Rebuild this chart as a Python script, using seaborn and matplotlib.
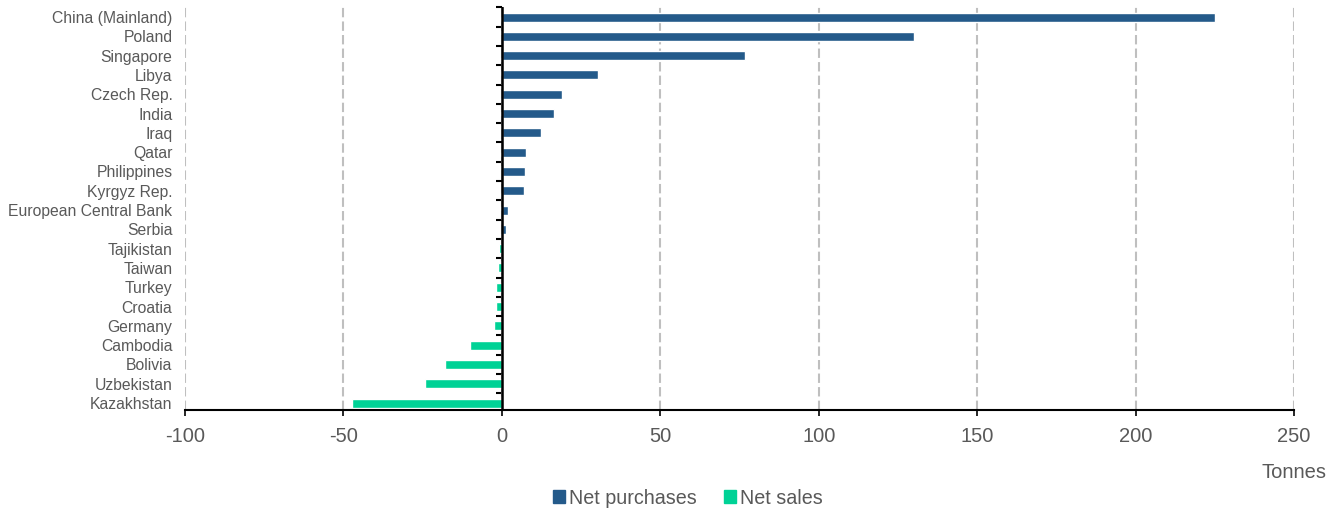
import matplotlib
matplotlib.use("Agg")
import matplotlib.pyplot as plt
import matplotlib.patches as mpatches
import seaborn as sns
import pandas as pd

countries = ["China (Mainland)", "Poland", "Singapore", "Libya", "Czech Rep.", "India", "Iraq",
             "Qatar", "Philippines", "Kyrgyz Rep.", "European Central Bank", "Serbia", "Tajikistan",
             "Taiwan", "Turkey", "Croatia", "Germany", "Cambodia", "Bolivia", "Uzbekistan", "Kazakhstan"]
tonnes = [225.0, 130.2, 76.8, 30.2, 18.9, 16.5, 12.4, 7.6, 7.3, 7.1, 1.9, 1.3, -0.9,
          -1.2, -1.7, -1.9, -2.5, -10.0, -18.1, -24.3, -47.3]
series = ["Net purchases", "Net sales"]
xticks = [-100, -50, 0, 50, 100, 150, 200, 250]

blue = "#245A8A"
green = "#00D296"
grey_txt = "#595959"

df = pd.DataFrame({"country": countries, "tonnes": tonnes})
df["type"] = [series[0] if v >= 0 else series[1] for v in df["tonnes"]]

sns.set_style("white")
plt.rcParams['font.family'] = ['Liberation Sans', 'DejaVu Sans']
plt.rcParams['axes.unicode_minus'] = False

fig = plt.figure(figsize=(13.43, 5.12), dpi=100)
ax = fig.add_axes([185/1343, 1-410/512, (1294-185)/1343, (410-7)/512])

sns.barplot(data=df, x="tonnes", y="country", hue="type", hue_order=series,
            palette={series[0]: blue, series[1]: green}, orient="h", dodge=False,
            width=0.47, legend=False, ax=ax, saturation=1, zorder=2)

ax.set_xlim(-100, 250)
ax.set_ylim(len(countries) - 1 + 0.36, -0.52)
ax.set_xticks(xticks)
ax.set_xlabel("")
ax.set_ylabel("")
ax.grid(axis="x", color="#BFBFBF", linestyle=(0, (4.5, 2)), linewidth=1.5)
ax.set_axisbelow(True)

for s in ["top", "right", "left"]:
    ax.spines[s].set_visible(False)
ax.spines["bottom"].set_color("black")
ax.spines["bottom"].set_linewidth(1.5)

ax.tick_params(axis="x", direction="out", length=4, width=1.2, color="black",
               labelsize=14.5, labelcolor=grey_txt, pad=8, bottom=True)
ax.tick_params(axis="y", length=0, labelsize=11.3, labelcolor=grey_txt, pad=9)

# zero axis with category-boundary ticks
ax.axvline(0, color="black", linewidth=1.8, zorder=3)
zero_frac = (0 - (-100)) / 350
sec = ax.secondary_yaxis(zero_frac)
sec.set_yticks([i + 0.5 for i in range(-1, len(countries) - 1)])
sec.set_yticklabels([])
sec.tick_params(axis="y", direction="out", length=4, width=1.5, color="black")

fig.text(1327/1343, 1-472/512, "Tonnes", ha="right", va="center", fontsize=14.5, color=grey_txt)

handles = [mpatches.Patch(color=blue, label=series[0]), mpatches.Patch(color=green, label=series[1])]
fig.legend(handles=handles, loc="center", bbox_to_anchor=(688/1343, 1-498/512), ncol=2,
           frameon=False, fontsize=14.2, labelcolor=grey_txt, handlelength=0.6, handleheight=0.6,
           handletextpad=0.2, columnspacing=1.4)

fig.savefig("out.png", dpi=100)
